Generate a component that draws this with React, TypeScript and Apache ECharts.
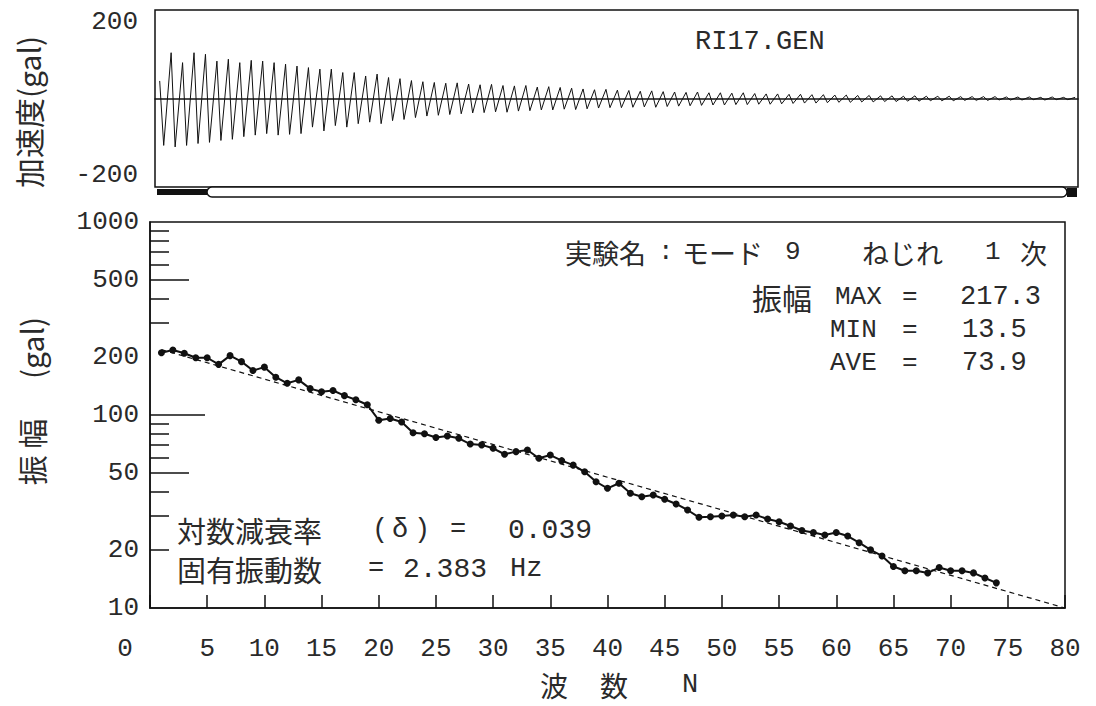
import React, { useEffect, useRef } from "react";
import * as echarts from "echarts";

// Wave number N of each measured amplitude
const waveNumbers = [
  1, 2, 3, 4, 5, 6, 7, 8, 9, 10, 11, 12, 13, 14, 15, 16, 17, 18, 19, 20,
  21, 22, 23, 24, 25, 26, 27, 28, 29, 30, 31, 32, 33, 34, 35, 36, 37, 38, 39, 40,
  41, 42, 43, 44, 45, 46, 47, 48, 49, 50, 51, 52, 53, 54, 55, 56, 57, 58, 59, 60,
  61, 62, 63, 64, 65, 66, 67, 68, 69, 70, 71, 72, 73, 74,
];

// Peak-to-peak amplitude per wave (gal)
const amplitudes = [
  210, 217.3, 209, 198, 198, 183, 203, 189, 170, 177,
  157, 146, 152, 137, 132, 134, 126, 120, 113, 94,
  96, 92, 81, 80, 76.5, 77.8, 75.7, 70.7, 70, 67.2,
  62.6, 64.6, 65.9, 59.7, 62, 58, 55, 50.8, 45.1, 41.7,
  44.3, 39.3, 37.7, 38.5, 36.6, 34.6, 32.2, 29.5, 29.7, 30,
  30.3, 29.7, 30.3, 28.9, 28, 26.6, 25.2, 24.6, 23.9, 24.6,
  23.6, 21.8, 20, 18.6, 16.4, 15.6, 15.6, 15.2, 16.2, 15.6,
  15.6, 15.2, 14.3, 13.5,
];

// Fitted logarithmic-decrement line (end points)
const fitWaveNumbers = [1, 80];
const fitAmplitudes = [218, 10];

// Acceleration record: positive peak and negative trough of each cycle (gal)
const accelPeaks = [
  46, 120, 94, 120, 116, 98, 103, 94, 100, 98,
  94, 90, 85, 81, 77, 77, 68, 68, 59, 64,
  55, 52, 47, 44, 42, 40, 41, 38, 36, 37,
  34, 33, 34, 30, 31, 29, 27, 25, 23, 24,
  22, 21, 19, 20, 18, 17, 16, 17, 15, 15,
  14, 15, 13, 12, 12, 11, 11, 10, 10, 9,
  9, 8, 8, 7, 7, 6, 7, 6, 6, 6,
  5, 5, 5, 5, 4, 4, 4, 3, 4, 3, 3,
];
const accelTroughs = [
  -123, -127, -123, -118, -115, -110, -107, -100, -96, -92,
  -96, -94, -92, -75, -85, -71, -75, -66, -62, -66,
  -58, -55, -50, -46, -44, -42, -40, -38, -37, -35,
  -36, -33, -32, -30, -30, -28, -29, -27, -25, -24,
  -24, -23, -22, -23, -21, -20, -19, -18, -17, -17,
  -16, -16, -15, -15, -14, -13, -12, -12, -11, -10,
  -10, -9, -9, -8, -8, -7, -7, -6, -6, -6,
  -5, -5, -5, -4, -4, -4, -3, -4, -3, -3,
];

// Axis tick labels and tick positions
const waveTickLabels = [0, 5, 10, 15, 20, 25, 30, 35, 40, 45, 50, 55, 60, 65, 70, 75, 80];
const ampTickLabels = [10, 20, 50, 100, 200, 500, 1000];
const ampShortTicks = [20, 30, 40, 60, 70, 80, 90, 300, 400, 600, 700, 800, 900];
const ampMidTicks = [50, 500];
const ampLongTicks = [100];
const accelTickLabels = [-200, 200];

const PEAK_PHASE = 0.85;
const TROUGH_PHASE = 1.2;

const MONO = "'Liberation Mono', 'DejaVu Sans Mono', monospace";
const CJK = "'Noto Sans CJK JP', sans-serif";
const INK = "#111";
const TEXT = "#2a2a2a";

function txt(text: string, x: number, y: number, size: number, family: string, extra: any = {}) {
  return {
    type: "text",
    x,
    y,
    silent: true,
    ...extra,
    style: {
      text,
      fontSize: size,
      fontFamily: family,
      fill: TEXT,
      align: extra.align || "left",
      textAlign: extra.align || "left",
      verticalAlign: "middle",
      textVerticalAlign: "middle",
    },
  };
}

export default function App() {
  const ref = useRef<HTMLDivElement>(null);

  useEffect(() => {
    if (!ref.current) return;
    const chart = echarts.init(ref.current, undefined, { renderer: "svg" });

    const waveData: number[][] = [];
    accelPeaks.forEach((p, k) => {
      waveData.push([k + PEAK_PHASE, p]);
      if (k < accelTroughs.length) waveData.push([k + TROUGH_PHASE, accelTroughs[k]]);
    });
    const ampData = waveNumbers.map((n, i) => [n, amplitudes[i]]);
    const fitData = fitWaveNumbers.map((n, i) => [n, fitAmplitudes[i]]);

    const labelStyle = { fontFamily: MONO, fontSize: 26, color: TEXT };
    const lineStyle = { color: INK, width: 1.5 };
    const plain = (v: number) => String(v);

    const logAxisBase = {
      gridIndex: 1,
      type: "log",
      logBase: 10,
      min: 10,
      max: 1000,
      position: "left",
      splitLine: { show: false },
      minorTick: { show: false },
      minorSplitLine: { show: false },
    };

    const option: any = {
      animation: false,
      backgroundColor: "#fff",
      grid: [
        { left: 155, top: 10, width: 923, height: 177, show: true, borderColor: INK, borderWidth: 1.5 },
        { left: 150, top: 222, width: 915, height: 386, show: true, borderColor: INK, borderWidth: 1.5 },
      ],
      xAxis: [
        {
          gridIndex: 0,
          type: "value",
          min: 0.44,
          max: 81.1,
          axisLine: { onZero: true, lineStyle },
          axisTick: { show: false },
          axisLabel: { show: false },
          splitLine: { show: false },
        },
        {
          gridIndex: 1,
          type: "value",
          min: 0,
          max: 80,
          interval: 5,
          axisLine: { lineStyle },
          axisTick: { inside: true, length: 13, lineStyle },
          axisLabel: {
            ...labelStyle,
            customValues: waveTickLabels,
            margin: 28,
            formatter: (v: number) => (v === 0 ? "{z|0}" : String(v)),
            rich: { z: { ...labelStyle, padding: [0, 50, 0, 0] } },
          },
          splitLine: { show: false },
        },
      ],
      yAxis: [
        {
          gridIndex: 0,
          type: "value",
          min: -232,
          max: 232,
          axisLine: { show: false },
          axisTick: { show: false },
          splitLine: { show: false },
          axisLabel: { ...labelStyle, customValues: accelTickLabels, margin: 17, formatter: plain },
        },
        {
          ...logAxisBase,
          axisLine: { show: true, lineStyle },
          axisTick: { customValues: ampShortTicks, inside: true, length: 19, lineStyle },
          axisLabel: {
            ...labelStyle,
            customValues: ampTickLabels,
            margin: 11,
            padding: [10, 0, 0, 0],
            formatter: plain,
          },
        },
        {
          ...logAxisBase,
          axisLine: { show: false },
          axisTick: { customValues: ampMidTicks, inside: true, length: 39, lineStyle },
          axisLabel: { show: false },
        },
        {
          ...logAxisBase,
          axisLine: { show: false },
          axisTick: { customValues: ampLongTicks, inside: true, length: 55, lineStyle },
          axisLabel: { show: false },
        },
      ],
      series: [
        {
          type: "line",
          xAxisIndex: 0,
          yAxisIndex: 0,
          data: waveData,
          showSymbol: false,
          symbol: "none",
          lineStyle: { color: INK, width: 1 },
        },
        {
          type: "line",
          xAxisIndex: 1,
          yAxisIndex: 1,
          data: fitData,
          symbol: "none",
          lineStyle: { color: INK, width: 1.2, type: [5, 4] },
        },
        {
          type: "line",
          xAxisIndex: 1,
          yAxisIndex: 1,
          data: ampData,
          symbol: "circle",
          symbolSize: 7,
          itemStyle: { color: INK },
          lineStyle: { color: INK, width: 2 },
        },
      ],
      graphic: [
        // record range bar under the acceleration trace
        { type: "rect", shape: { x: 157, y: 189, width: 50, height: 6 }, style: { fill: INK }, silent: true },
        { type: "rect", shape: { x: 207, y: 187, width: 860, height: 10, r: 5 }, style: { fill: "#fff", stroke: INK, lineWidth: 1.5 }, silent: true },
        { type: "rect", shape: { x: 1067, y: 188, width: 10, height: 9 }, style: { fill: INK }, silent: true },

        // axis titles
        txt("加速度(gal)", 28, 112, 30, CJK, { rotation: Math.PI / 2, align: "center" }),
        txt("振 幅", 31, 452, 30, CJK, { rotation: Math.PI / 2, align: "center" }),
        txt("(gal)", 31, 348, 30, CJK, { rotation: Math.PI / 2, align: "center" }),
        txt("波", 540, 685, 28, CJK),
        txt("数", 600, 685, 28, CJK),
        txt("N", 682, 685, 27, MONO),

        // record name
        txt("RI17.GEN", 695, 42, 27, MONO),

        // experiment summary
        txt("実験名", 565, 252, 27, CJK),
        txt(":", 658, 252, 26, MONO),
        txt("モード", 682, 252, 27, CJK),
        txt("9", 785, 252, 26, MONO),
        txt("ねじれ", 862, 252, 27, CJK),
        txt("1", 985, 252, 26, MONO),
        txt("次", 1020, 252, 27, CJK),

        txt("振幅", 752, 297, 30, CJK),
        txt("MAX", 835, 297, 26, MONO),
        txt("=", 902, 297, 26, MONO),
        txt("217.3", 960, 297, 27, MONO),
        txt("MIN", 830, 330, 26, MONO),
        txt("=", 902, 330, 26, MONO),
        txt("13.5", 962, 330, 27, MONO),
        txt("AVE", 830, 363, 26, MONO),
        txt("=", 902, 363, 26, MONO),
        txt("73.9", 962, 363, 27, MONO),

        // damping result
        txt("対数減衰率", 177, 530, 29, CJK),
        txt("(", 372, 530, 27, MONO),
        txt("δ", 392, 530, 27, MONO),
        txt(")", 414, 530, 27, MONO),
        txt("=", 450, 530, 27, MONO),
        txt("0.039", 508, 530, 28, MONO),
        txt("固有振動数", 177, 569, 29, CJK),
        txt("=", 368, 569, 27, MONO),
        txt("2.383", 403, 569, 28, MONO),
        txt("Hz", 510, 569, 27, MONO),
      ],
    };

    chart.setOption(option);
    return () => chart.dispose();
  }, []);

  return (
    <div
      ref={ref}
      style={{ position: "fixed", left: 0, top: 0, width: 1096, height: 706, background: "#fff" }}
    />
  );
}
